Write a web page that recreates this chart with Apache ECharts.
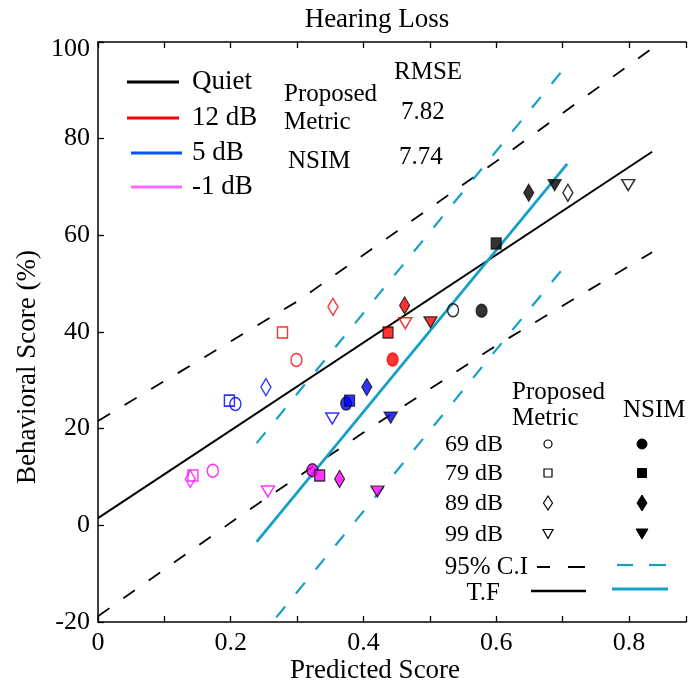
<!DOCTYPE html>
<html><head><meta charset="utf-8">
<script src="https://cdn.jsdelivr.net/npm/echarts@6.0.0/dist/echarts.min.js"></script>
<style>html,body{margin:0;padding:0;background:#fff}#c{width:689px;height:690px}</style>
</head><body><div id="c"></div><script>
// ---------- data ----------
const levels = ['69 dB', '79 dB', '89 dB', '99 dB'];
const conditions = ['Quiet', '12 dB', '5 dB', '-1 dB'];
const conditionColors = ['#000000', '#ff0000', '#0000ff', '#ff00ff'];
const legendLineColors = ['#000000', '#ff0000', '#0055ff', '#ff66ff'];

const quietProposedX = [0.535, null, 0.708, 0.799];
const quietProposedY = [44.5, null, 68.8, 70.4];
const quietNsimX = [0.578, 0.600, 0.649, 0.688];
const quietNsimY = [44.4, 58.3, 68.8, 70.4];

const db12ProposedX = [0.299, 0.278, 0.354, 0.463];
const db12ProposedY = [34.2, 39.9, 45.2, 41.8];
const db12NsimX = [0.444, 0.437, 0.462, 0.501];
const db12NsimY = [34.3, 39.9, 45.5, 42.0];

const db5ProposedX = [0.207, 0.198, 0.253, 0.353];
const db5ProposedY = [25.1, 25.8, 28.6, 22.1];
const db5NsimX = [0.374, 0.379, 0.405, 0.441];
const db5NsimY = [25.2, 25.8, 28.6, 22.3];

const dbm1ProposedX = [0.173, 0.143, 0.139, 0.256];
const dbm1ProposedY = [11.3, 10.3, 9.6, 7.0];
const dbm1NsimX = [0.323, 0.334, 0.364, 0.421];
const dbm1NsimY = [11.4, 10.3, 9.6, 7.0];

// fitted lines (T.F) and 95% C.I.
const proposedFitX = [0, 0.835];
const proposedFitY = [1.5, 77.3];
const proposedCiUpperX = [0, 0.3, 0.45, 0.6, 0.835];
const proposedCiUpperY = [21.6, 46.3, 60.8, 75.3, 98.7];
const proposedCiLowerX = [0, 0.22, 0.4, 0.6, 0.835];
const proposedCiLowerY = [-18.8, 2.5, 19.2, 37.2, 56.5];

const nsimFitX = [0.239, 0.707];
const nsimFitY = [-3.4, 74.8];
const nsimCiUpperX = [0.239, 0.707];
const nsimCiUpperY = [17.0, 95.3];
const nsimCiLowerX = [0.239, 0.707];
const nsimCiLowerY = [-24.0, 54.2];

const xTicks = [0, 0.2, 0.4, 0.6, 0.8];
const yTicks = [-20, 0, 20, 40, 60, 80, 100];

const rmseLabels = ['Proposed\nMetric', 'NSIM'];
const rmseValues = ['7.82', '7.74'];

// ---------- styling helpers ----------
const FONT = 'Liberation Serif';
const CYAN = '#16a0c8';
const levelSymbols = ['circle', 'rect', 'diamond', 'triangle'];
const levelSizes = [[11, 13], [10, 11], [10, 17], [13, 11]];
const levelRotate = [0, 0, 0, 180];

const proposedSets = [
  [quietProposedX, quietProposedY], [db12ProposedX, db12ProposedY],
  [db5ProposedX, db5ProposedY], [dbm1ProposedX, dbm1ProposedY]
];
const nsimSets = [
  [quietNsimX, quietNsimY], [db12NsimX, db12NsimY],
  [db5NsimX, db5NsimY], [dbm1NsimX, dbm1NsimY]
];

function zip(xs, ys) { return xs.map((x, i) => [x, ys[i]]); }

const series = [];
function lineSeries(name, xs, ys, color, width, dash) {
  series.push({
    name, type: 'line', data: zip(xs, ys), symbol: 'none', silent: true, z: 2,
    lineStyle: { color, width, type: dash ? [14, 17] : 'solid' }, animation: false
  });
}
lineSeries('Proposed CI upper', proposedCiUpperX, proposedCiUpperY, '#000', 1.8, true);
lineSeries('Proposed CI lower', proposedCiLowerX, proposedCiLowerY, '#000', 1.8, true);
lineSeries('NSIM CI upper', nsimCiUpperX, nsimCiUpperY, CYAN, 2.2, true);
lineSeries('NSIM CI lower', nsimCiLowerX, nsimCiLowerY, CYAN, 2.2, true);
lineSeries('Proposed T.F', proposedFitX, proposedFitY, '#000', 2, false);
lineSeries('NSIM T.F', nsimFitX, nsimFitY, CYAN, 2.8, false);

conditions.forEach((c, ci) => {
  const col = conditionColors[ci];
  const [px, py] = proposedSets[ci];
  series.push({
    name: c + ' Proposed', type: 'scatter', z: 5, animation: false,
    data: levels.map((lv, li) => px[li] == null ? null : {
      name: lv, value: [px[li], py[li]],
      symbol: levelSymbols[li], symbolSize: levelSizes[li], symbolRotate: levelRotate[li]
    }).filter(d => d),
    itemStyle: { color: 'rgba(255,255,255,0)', borderColor: col, borderWidth: 1.5 }
  });
  const [nx, ny] = nsimSets[ci];
  series.push({
    name: c + ' NSIM', type: 'scatter', z: 6, animation: false,
    data: levels.map((lv, li) => ({
      name: lv, value: [nx[li], ny[li]],
      symbol: levelSymbols[li], symbolSize: levelSizes[li], symbolRotate: levelRotate[li],
      itemStyle: (ci === 1 && li === 0) ? { borderColor: col } : undefined
    })),
    itemStyle: { color: col, borderColor: '#111', borderWidth: 1.3 }
  });
});

// ---------- graphic (titles, annotation legends) ----------
const g = [];
function txt(text, x, y, size, align, extra) {
  g.push(Object.assign({
    type: 'text', x, y, z: 10,
    style: { text, fontFamily: FONT, fontSize: size, fill: '#000', align: align || 'left', verticalAlign: 'middle' }
  }, extra || {}));
}
function seg(x1, y1, x2, y2, stroke, w) {
  g.push({ type: 'line', z: 10, shape: { x1, y1, x2, y2 }, style: { stroke, lineWidth: w } });
}
txt('Hearing Loss', 377, 20, 27, 'center');
txt('Predicted Score', 375, 671, 27, 'center');
txt('Behavioral Score (%)', 28, 367, 27, 'center', { rotation: Math.PI / 2 });

// top-left legend
const tlY = [82, 118, 153, 187];
const tlX1 = [127, 127, 131, 131];
const tlX2 = [179, 179, 182, 182];
conditions.forEach((c, i) => {
  seg(tlX1[i], tlY[i], tlX2[i], tlY[i], legendLineColors[i], 3);
  txt(c, 192, tlY[i], 27, 'left');
});
txt('Proposed', 284, 94, 25, 'left');
txt('Metric', 284, 122, 25, 'left');
txt(rmseLabels[1], 288, 161, 25, 'left');
txt('RMSE', 394, 72, 25, 'left');
txt(rmseValues[0], 401, 112, 25, 'left');
txt(rmseValues[1], 399, 157, 25, 'left');

// bottom-right legend
txt('Proposed', 512, 392, 25, 'left');
txt('Metric', 512, 418, 25, 'left');
txt('NSIM', 623, 410, 25, 'left');
const brY = [444, 473, 503, 534];
levels.forEach((lv, i) => {
  txt(lv, 503, brY[i] + 1, 24, 'right');
});
function marker(kind, cx, cy, filled) {
  const style = filled ? { fill: '#000', stroke: '#000', lineWidth: 1 } : { fill: '#fff', stroke: '#000', lineWidth: 1.2 };
  if (kind === 0) g.push({ type: 'circle', z: 10, shape: { cx, cy, r: filled ? 5 : 4 }, style });
  else if (kind === 1) { const s = filled ? 9 : 8; g.push({ type: 'rect', z: 10, shape: { x: cx - s / 2, y: cy - s / 2, width: s, height: s }, style }); }
  else if (kind === 2) { const w = filled ? 5 : 4.5, h = filled ? 8 : 7; g.push({ type: 'polygon', z: 10, shape: { points: [[cx, cy - h], [cx + w, cy], [cx, cy + h], [cx - w, cy]] }, style }); }
  else { const w = filled ? 6 : 5, h = filled ? 5 : 4.5; g.push({ type: 'polygon', z: 10, shape: { points: [[cx - w, cy - h], [cx + w, cy - h], [cx, cy + h]] }, style }); }
}
levels.forEach((lv, i) => { marker(i, 548, brY[i], false); marker(i, 642, brY[i], true); });
txt('95% C.I', 528, 567, 25, 'right');
txt('T.F', 500, 593, 25, 'right');
seg(537, 567, 550, 567, '#000', 2);
seg(568, 567, 585, 567, '#000', 2);
seg(617, 565, 633, 565, CYAN, 2.2);
seg(649, 565, 666, 565, CYAN, 2.2);
seg(531, 591, 586, 591, '#000', 2.5);
seg(612, 589, 668, 589, CYAN, 2.8);

// ---------- chart ----------
const chart = echarts.init(document.getElementById('c'), null, { renderer: 'canvas' });
const axisLine = { show: true, onZero: false, lineStyle: { color: '#000', width: 1.5 } };
chart.setOption({
  animation: false,
  backgroundColor: '#fff',
  grid: { left: 98, right: 0, top: 42, bottom: 68, containLabel: false },
  xAxis: [{
    type: 'value', position: 'bottom', min: 0, max: 0.886, interval: 0.1,
    axisLine, splitLine: { show: false },
    axisTick: { inside: true, length: 6, lineStyle: { color: '#000', width: 1.3 } },
    axisLabel: {
      color: '#000', fontFamily: FONT, fontSize: 26, margin: 8,
      formatter: v => { const r = Math.round(v * 10) / 10; return xTicks.some(t => Math.abs(t - v) < 1e-6) ? String(r) : ''; }
    }
  }, {
    type: 'value', position: 'top', min: 0, max: 0.886, interval: 0.1,
    axisLine, splitLine: { show: false },
    axisTick: { inside: true, length: 6, lineStyle: { color: '#000', width: 1.3 } },
    axisLabel: { show: false }
  }],
  yAxis: {
    type: 'value', min: -20, max: 100, interval: 20,
    axisLine, splitLine: { show: false },
    axisTick: { inside: true, length: 6, lineStyle: { color: '#000', width: 1.3 } },
    axisLabel: {
      color: '#000', fontFamily: FONT, fontSize: 26, margin: 8,
      formatter: v => yTicks.includes(v) ? (v === 100 ? '{t|100}' : String(v)) : '',
      rich: { t: { fontFamily: FONT, fontSize: 26, color: '#000', padding: [14, 0, 0, 0] } }
    }
  },
  series,
  graphic: g
});
</script></body></html>
